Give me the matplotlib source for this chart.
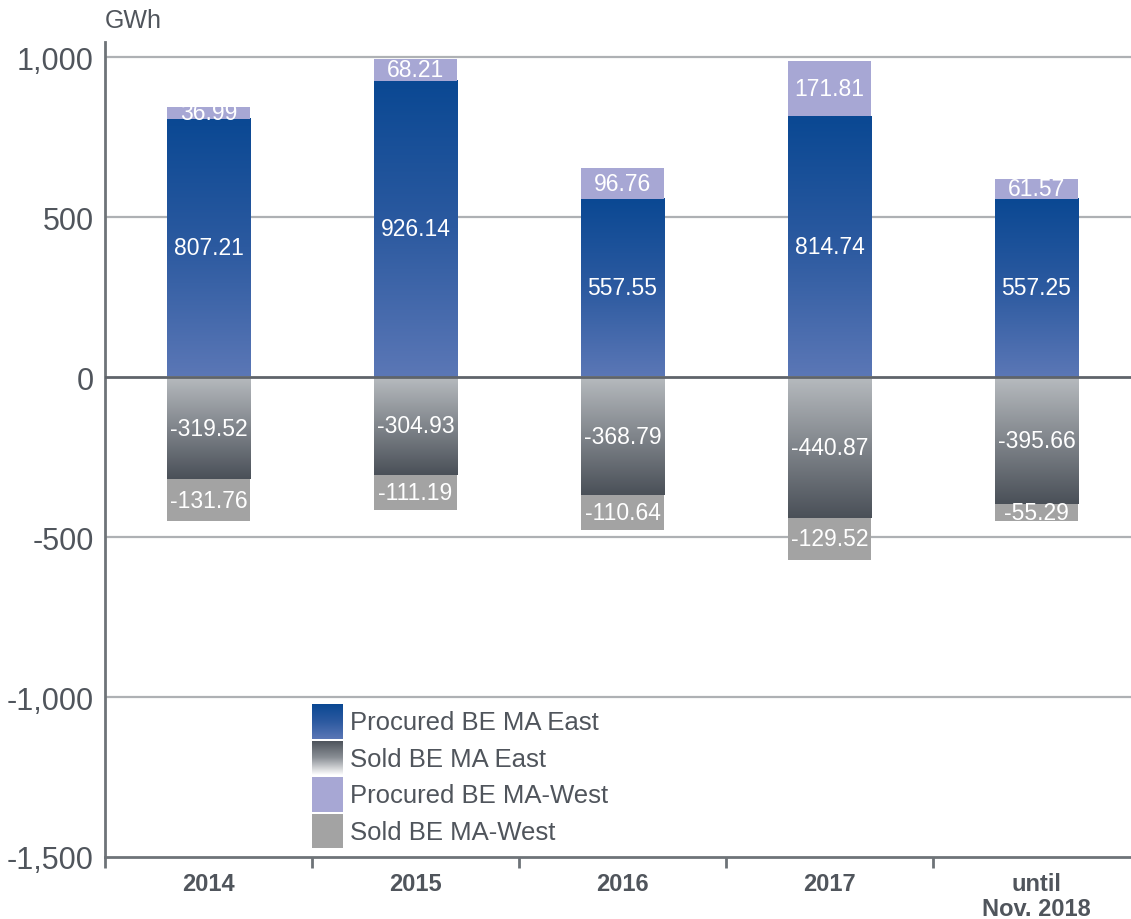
import numpy as np
import matplotlib.pyplot as plt
from matplotlib.colors import LinearSegmentedColormap
from matplotlib.ticker import FixedLocator, FuncFormatter

# data (GWh)
categories = ['2014', '2015', '2016', '2017', 'until\nNov. 2018']
procured_east = [807.21, 926.14, 557.55, 814.74, 557.25]
procured_west = [36.99, 68.21, 96.76, 171.81, 61.57]
sold_east = [-319.52, -304.93, -368.79, -440.87, -395.66]
sold_west = [-131.76, -111.19, -110.64, -129.52, -55.29]
legend_labels = ['Procured BE MA East', 'Sold BE MA East',
                 'Procured BE MA-West', 'Sold BE MA-West']

TXT = '#50555c'
AXC = '#6e7378'
SANS = ['Liberation Sans', 'DejaVu Sans']

blue_cm = LinearSegmentedColormap.from_list('blue', ['#0a4893', '#2c5aa0', '#5b77b6'])  # top -> bottom
grey_cm = LinearSegmentedColormap.from_list('grey', ['#b7bbbf', '#80858b', '#4a5058'])  # top -> bottom
WEST_P = '#a7a7d4'
WEST_S = '#a3a3a3'

fig = plt.figure(figsize=(11.31, 9.2), dpi=100)
ax = fig.add_axes([105 / 1131, 62 / 920, 1026 / 1131, 815 / 920])

x = np.arange(len(categories))
w = 0.405
grad = np.linspace(0, 1, 256).reshape(-1, 1)


def grad_bars(bars, cmap):
    for b in bars:
        x0, y0 = b.get_xy()
        y1 = y0 + b.get_height()
        top, bot = max(y0, y1), min(y0, y1)
        ax.imshow(grad, cmap=cmap, aspect='auto', origin='upper',
                  extent=[x0, x0 + b.get_width(), bot, top], zorder=2,
                  interpolation='bilinear')
        b.set_visible(False)


b1 = ax.bar(x, procured_east, w, zorder=2)
grad_bars(b1, blue_cm)
ax.bar(x, procured_west, w, bottom=procured_east, color=WEST_P, zorder=2)
b3 = ax.bar(x, sold_east, w, zorder=2)
grad_bars(b3, grey_cm)
ax.bar(x, sold_west, w, bottom=sold_east, color=WEST_S, zorder=2)

# value labels
lab_kw = dict(ha='center', va='center', color='white', fontsize=16.5,
              family=SANS, zorder=6)
for i in x:
    ax.text(i, procured_east[i] / 2, f'{procured_east[i]:.2f}', **lab_kw)
    ax.text(i, procured_east[i] + procured_west[i] / 2, f'{procured_west[i]:.2f}', **lab_kw)
    ax.text(i, sold_east[i] / 2, f'{sold_east[i]:.2f}', **lab_kw)
    ax.text(i, sold_east[i] + sold_west[i] / 2, f'{sold_west[i]:.2f}', **lab_kw)

# grid / zero line
for yv in [1000, 500, -500, -1000]:
    ax.axhline(yv, color='#aeb1b4', lw=1.6, zorder=1)
ax.axhline(0, color='#5f646a', lw=2, zorder=5)

ax.set_xlim(-0.5, -0.5 + 1026 / 207)
ax.set_ylim(-1500, 1047)

for s in ['top', 'right']:
    ax.spines[s].set_visible(False)
for s in ['left', 'bottom']:
    ax.spines[s].set_color(AXC)
    ax.spines[s].set_linewidth(2)

ax.set_yticks([-1500, -1000, -500, 0, 500, 1000])
ax.yaxis.set_major_formatter(FuncFormatter(lambda v, p: f'{v:,.0f}'))
ax.tick_params(axis='y', length=0, pad=8, labelsize=22, labelcolor=TXT)
for t in ax.get_yticklabels():
    t.set_family(SANS)

ax.set_xticks(x)
ax.set_xticklabels(categories, fontsize=17, fontweight='bold', color=TXT,
                   family=SANS, linespacing=1.1)
ax.tick_params(axis='x', which='major', length=0, pad=11)
ax.xaxis.set_minor_locator(FixedLocator(np.arange(-0.5, len(categories), 1.0)))
ax.tick_params(axis='x', which='minor', length=8, width=2, color=AXC, direction='out')

fig.text(105 / 1131, 1 - 21 / 920, 'GWh', ha='left', va='center', fontsize=18,
         color=TXT, family=SANS)

# legend with gradient swatches
sw_x, sw_w = 0.2018, 0.030
row_h = 0.0448
top0 = 0.1877
legend_east_sold = LinearSegmentedColormap.from_list('lg', ['#4a5058', '#8a8f95', '#ffffff'])
swatches = [('grad', blue_cm), ('grad', legend_east_sold),
            ('flat', WEST_P), ('flat', WEST_S)]
for k, (lbl, (kind, col)) in enumerate(zip(legend_labels, swatches)):
    y_top = top0 - k * row_h
    iax = ax.inset_axes([sw_x, y_top - row_h + 0.002, sw_w, row_h - 0.002])
    iax.set_axis_off()
    if kind == 'grad':
        iax.imshow(grad, cmap=col, aspect='auto', extent=[0, 1, 0, 1], origin='upper')
    else:
        iax.imshow([[0]], cmap=LinearSegmentedColormap.from_list('c', [col, col]),
                   aspect='auto', extent=[0, 1, 0, 1])
    ax.text(0.239, y_top - row_h / 2, lbl, transform=ax.transAxes, ha='left',
            va='center', fontsize=18.5, color=TXT, family=SANS)

fig.savefig('out.png', dpi=100)
